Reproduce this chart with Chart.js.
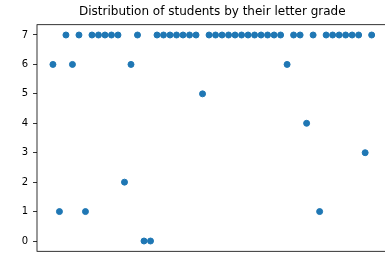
<!DOCTYPE html>
<html>
<head>
<meta charset="utf-8">
<script src="https://cdn.jsdelivr.net/npm/chart.js@4/dist/chart.umd.min.js"></script>
<style>
    html, body { margin: 0; padding: 0; background: #fff; overflow: hidden; }
    #wrap { width: 385px; height: 254px; overflow: hidden; }
</style>
</head>
<body>
<div id="wrap"><canvas id="myChart" width="392" height="254"></canvas></div>
<script>
// letter grade of each student, in the order they appear
const grades = [6, 1, 7, 6, 7, 1, 7, 7, 7, 7, 7, 2, 6, 7, 0, 0,
    7, 7, 7, 7, 7, 7, 7, 5,
    7, 7, 7, 7, 7, 7, 7, 7, 7, 7, 7, 7,
    6, 7, 7, 4, 7, 1, 7, 7, 7, 7, 7, 7, 3, 7];
const students = grades.map((g, i) => i);
const yTicks = [0, 1, 2, 3, 4, 5, 6, 7];
const chartTitle = 'Distribution of students by their letter grade';

// draw the four spines like matplotlib does
const frame = {
    id: 'frame',
    afterDraw(chart) {
        const a = chart.chartArea;
        const ctx = chart.ctx;
        ctx.save();
        ctx.strokeStyle = '#000';
        ctx.lineWidth = 0.8;
        ctx.strokeRect(a.left, a.top, a.right - a.left, a.bottom - a.top);
        ctx.restore();
    }
};

var ctx = document.getElementById('myChart').getContext('2d');
new Chart(ctx, {
    type: 'scatter',
    data: {
        datasets: [{
            data: students.map(i => ({ x: i, y: grades[i] })),
            backgroundColor: '#1f77b4',
            borderColor: '#1f77b4',
            borderWidth: 1,
            pointRadius: 3,
            pointHoverRadius: 3
        }]
    },
    options: {
        responsive: false,
        animation: false,
        layout: { autoPadding: false, padding: { left: 0, right: 4.4, top: 0, bottom: 2.7 } },
        plugins: {
            legend: { display: false },
            tooltip: { enabled: false },
            title: {
                display: true,
                text: chartTitle,
                fullSize: false,
                color: '#000',
                font: { family: 'DejaVu Sans', size: 12, weight: 'normal', lineHeight: 1.2 },
                padding: { top: 5, bottom: 5.3 }
            }
        },
        scales: {
            x: {
                type: 'linear',
                display: false,
                min: -2.45,
                max: 51.45
            },
            y: {
                min: -0.35,
                max: 7.35,
                afterBuildTicks: function (axis) {
                    axis.ticks = yTicks.map(v => ({ value: v }));
                },
                afterFit: function (axis) {
                    axis.width = 37;
                    // labels may hang outside the plot, like matplotlib
                    axis.paddingTop = 0;
                    axis.paddingBottom = 0;
                },
                border: { display: false },
                grid: {
                    drawOnChartArea: false,
                    drawTicks: true,
                    tickLength: 4,
                    tickColor: '#000',
                    tickWidth: 0.8
                },
                ticks: {
                    padding: 5,
                    color: '#000',
                    font: { family: 'DejaVu Sans', size: 10 }
                }
            }
        }
    },
    plugins: [frame]
});
</script>
</body>
</html>
